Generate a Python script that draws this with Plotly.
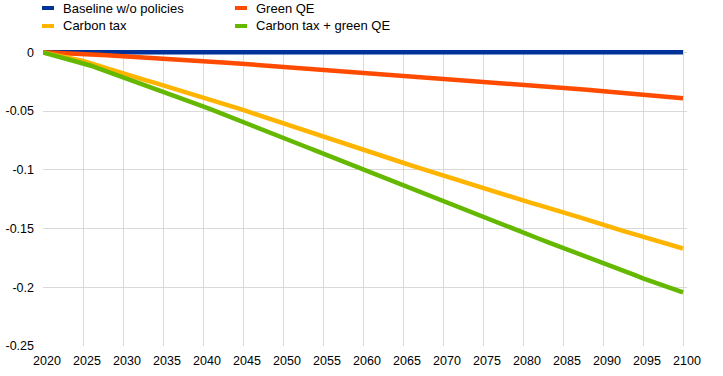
import plotly.graph_objects as go

years = list(range(2020, 2101))

baseline = [
    0, 0, 0, 0, 0, 0, 0, 0, 0, 0,
    0, 0, 0, 0, 0, 0, 0, 0, 0, 0,
    0, 0, 0, 0, 0, 0, 0, 0, 0, 0,
    0, 0, 0, 0, 0, 0, 0, 0, 0, 0,
    0, 0, 0, 0, 0, 0, 0, 0, 0, 0,
    0, 0, 0, 0, 0, 0, 0, 0, 0, 0,
    0, 0, 0, 0, 0, 0, 0, 0, 0, 0,
    0, 0, 0, 0, 0, 0, 0, 0, 0, 0,
    0,
]

green_qe = [
    0.0, -0.0002, -0.0004, -0.0007, -0.0009, -0.0012, -0.0016, -0.0020, -0.0025, -0.0029,
    -0.0034, -0.0037, -0.0041, -0.0046, -0.0050, -0.0054, -0.0059, -0.0064, -0.0068, -0.0072,
    -0.0077, -0.0081, -0.0085, -0.0088, -0.0093, -0.0097, -0.0103, -0.0109, -0.0114, -0.0119,
    -0.0125, -0.0129, -0.0134, -0.0138, -0.0143, -0.0147, -0.0153, -0.0158, -0.0163, -0.0168,
    -0.0173, -0.0178, -0.0183, -0.0188, -0.0193, -0.0198, -0.0204, -0.0210, -0.0216, -0.0221,
    -0.0227, -0.0231, -0.0236, -0.0241, -0.0246, -0.0250, -0.0255, -0.0260, -0.0265, -0.0270,
    -0.0275, -0.0279, -0.0284, -0.0289, -0.0293, -0.0298, -0.0305, -0.0311, -0.0318, -0.0324,
    -0.0330, -0.0336, -0.0341, -0.0347, -0.0352, -0.0358, -0.0364, -0.0371, -0.0377, -0.0384,
    -0.0390,
]

carbon_tax = [
    0.0, -0.0013, -0.0028, -0.0043, -0.0058, -0.0074, -0.0095, -0.0117, -0.0138, -0.0160,
    -0.0180, -0.0200, -0.0220, -0.0240, -0.0260, -0.0280, -0.0300, -0.0321, -0.0340, -0.0360,
    -0.0380, -0.0402, -0.0424, -0.0446, -0.0468, -0.0490, -0.0513, -0.0536, -0.0559, -0.0582,
    -0.0605, -0.0627, -0.0649, -0.0671, -0.0692, -0.0714, -0.0737, -0.0759, -0.0782, -0.0804,
    -0.0827, -0.0850, -0.0872, -0.0895, -0.0917, -0.0940, -0.0962, -0.0984, -0.1006, -0.1028,
    -0.1050, -0.1070, -0.1091, -0.1111, -0.1132, -0.1152, -0.1174, -0.1196, -0.1219, -0.1241,
    -0.1263, -0.1282, -0.1301, -0.1320, -0.1339, -0.1358, -0.1380, -0.1403, -0.1425, -0.1448,
    -0.1470, -0.1490, -0.1510, -0.1530, -0.1550, -0.1570, -0.1590, -0.1610, -0.1630, -0.1650,
    -0.1670,
]

carbon_tax_green_qe = [
    0.0, -0.0018, -0.0036, -0.0054, -0.0072, -0.0090, -0.0114, -0.0138, -0.0162, -0.0186,
    -0.0210, -0.0234, -0.0258, -0.0282, -0.0306, -0.0330, -0.0356, -0.0382, -0.0408, -0.0434,
    -0.0460, -0.0486, -0.0512, -0.0538, -0.0564, -0.0590, -0.0618, -0.0645, -0.0673, -0.0700,
    -0.0728, -0.0755, -0.0782, -0.0808, -0.0835, -0.0862, -0.0889, -0.0916, -0.0944, -0.0971,
    -0.0998, -0.1024, -0.1051, -0.1077, -0.1104, -0.1130, -0.1159, -0.1188, -0.1216, -0.1245,
    -0.1273, -0.1298, -0.1324, -0.1349, -0.1375, -0.1400, -0.1427, -0.1454, -0.1482, -0.1509,
    -0.1536, -0.1562, -0.1587, -0.1613, -0.1638, -0.1664, -0.1689, -0.1714, -0.1740, -0.1765,
    -0.1790, -0.1817, -0.1844, -0.1870, -0.1897, -0.1924, -0.1948, -0.1972, -0.1995, -0.2019,
    -0.2043,
]

series_names = ["Baseline w/o policies", "Green QE", "Carbon tax", "Carbon tax + green QE"]
series_values = [baseline, green_qe, carbon_tax, carbon_tax_green_qe]
series_colors = ["#003299", "#ff4b00", "#ffb400", "#65b800"]

x_ticks = list(range(2020, 2101, 5))
y_ticks = [0, -0.05, -0.1, -0.15, -0.2, -0.25]
y_tick_labels = ["0", "-0.05", "-0.1", "-0.15", "-0.2", "-0.25"]

fig = go.Figure()
for name, vals, col in zip(series_names, series_values, series_colors):
    fig.add_trace(go.Scatter(
        x=years, y=vals, name=name, mode="lines",
        line=dict(color=col, width=4.5), showlegend=False,
    ))

W, H = 723, 376
ML, MR, MT, MB = 43, 36, 50, 30
pw, ph = W - ML - MR, H - MT - MB

def px_x(px):
    return (px - ML) / pw

def px_y(py):
    return (H - MB - py) / ph

legend_pos = [(42, 8), (235, 8), (42, 26), (235, 26)]
shapes = []
annotations = []
for (lx, ly), name, col in zip(legend_pos, series_names, series_colors):
    shapes.append(dict(
        type="rect", xref="paper", yref="paper",
        x0=px_x(lx), x1=px_x(lx + 12), y0=px_y(ly + 2), y1=px_y(ly - 2),
        fillcolor=col, line=dict(width=0),
    ))
    annotations.append(dict(
        text=name, xref="paper", yref="paper", x=px_x(lx + 19), y=px_y(ly),
        xanchor="left", yanchor="middle", showarrow=False,
        font=dict(family="Liberation Sans, Arial", size=13, color="#000000"),
    ))

fig.update_layout(
    width=W, height=H,
    margin=dict(l=ML, r=MR, t=MT, b=MB, autoexpand=False),
    plot_bgcolor="white", paper_bgcolor="white",
    font=dict(family="Liberation Sans, Arial", size=12.5, color="#000000"),
    shapes=shapes, annotations=annotations,
    xaxis=dict(
        range=[2020, 2100.5], tickmode="array", tickvals=x_ticks,
        ticktext=[str(t) for t in x_ticks],
        showgrid=True, gridcolor="#d9d9d9", gridwidth=1,
        zeroline=False, showline=False, ticks="", automargin=False,
        ticklabelstandoff=5, ticklabelshift=4,
    ),
    yaxis=dict(
        range=[-0.25, 0.002], tickmode="array", tickvals=y_ticks,
        ticktext=y_tick_labels,
        showgrid=True, gridcolor="#d9d9d9", gridwidth=1,
        zeroline=False, showline=False, ticks="", ticklabelstandoff=8,
        automargin=False,
    ),
)

fig.write_html(
    "out.html",
    config={"displayModeBar": False},
    post_script="document.body.style.margin='0px';document.body.style.overflow='hidden';",
)
